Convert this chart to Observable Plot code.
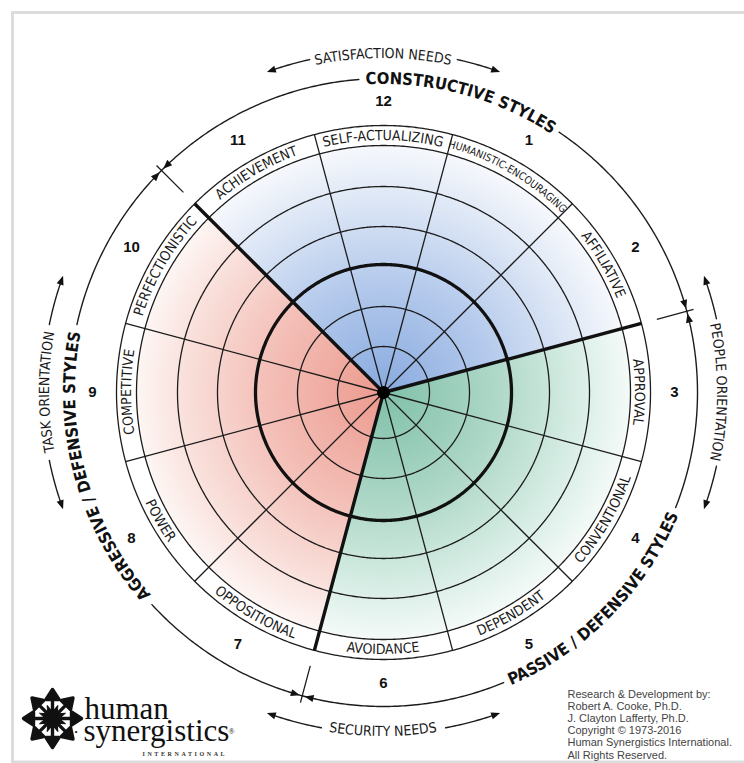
<!DOCTYPE html>
<html>
<head>
<meta charset="utf-8">
<script src="https://cdn.jsdelivr.net/npm/d3@7"></script>
<script src="https://cdn.jsdelivr.net/npm/@observablehq/plot@0.6"></script>
<style>
  body { margin: 0; background: #fff; }
  #chart svg { display: block; }
  .intl text { letter-spacing: 2.6px; }
</style>
</head>
<body>
<div id="chart"></div>
<script>
// ---------------- DATA ----------------
const scaleNumbers = ["12", "1", "2", "3", "4", "5", "6", "7", "8", "9", "10", "11"];
const scaleNames = ["SELF-ACTUALIZING", "HUMANISTIC-ENCOURAGING", "AFFILIATIVE", "APPROVAL",
  "CONVENTIONAL", "DEPENDENT", "AVOIDANCE", "OPPOSITIONAL", "POWER", "COMPETITIVE",
  "PERFECTIONISTIC", "ACHIEVEMENT"];
const scaleBearings = [0, 30, 60, 90, 120, 150, 180, 210, 240, 270, 300, 330]; // degrees clockwise from top

const styleNames = ["CONSTRUCTIVE STYLES", "PASSIVE / DEFENSIVE STYLES", "AGGRESSIVE / DEFENSIVE STYLES"];
const styleFrom = [-45, 75, 195];
const styleTo = [75, 195, 315];
const styleTitleBearing = [15, 134.5, 255];
const styleTitleGap = [[-4.5, 34], [111.5, 157.5], [227.5, 282.5]];

const needNames = ["SATISFACTION NEEDS", "PEOPLE ORIENTATION", "SECURITY NEEDS", "TASK ORIENTATION"];
const needBearings = [0, 90, 180, 270];
const needArrowSpan = [20, 20, 20, 20];
const needTextGap = [12.5, 12.5, 10.5, 11.5];

const gridRings = [46, 86, 128, 166, 206];   // radial grid (plot units)
const boldRing = 128;
const ringInner = 247, ringOuter = 267;

const credits = ["Research & Development by:", "Robert A. Cooke, Ph.D.", "J. Clayton Lafferty, Ph.D.",
  "Copyright \u00A9 1973-2016", "Human Synergistics International.", "All Rights Reserved."];
const logoWords = ["human", "synergistics"];
const logoSub = "INTERNATIONAL";
const logoArrows = [0, 45, 90, 135, 180, 225, 270, 315];

// ---------------- LAYOUT ----------------
const W = 744, H = 763, CX = 383, CY = 392;
const NARROW = "'Liberation Sans Narrow', 'Arial Narrow', 'DejaVu Sans Condensed', sans-serif";
const SANS = "'Liberation Sans', Arial, sans-serif";
const SERIF = "'Liberation Serif', 'DejaVu Serif', serif";
const R_STYLE = 314, R_NUM = 291, R_NEED = 341;
const ns = "http://www.w3.org/2000/svg";
const rad = d => d * Math.PI / 180;
const px = (b, r) => r * Math.sin(rad(b));
const py = (b, r) => r * Math.cos(rad(b));
const arcPts = (a0, a1, r, z) => {
  const n = Math.max(2, Math.ceil(Math.abs(a1 - a0) / 0.5));
  return d3.range(n + 1).map(i => { const a = a0 + (a1 - a0) * i / n; return {z, x: px(a, r), y: py(a, r)}; });
};
const arrowPts = (tip, dir, r, z, L = 9, w = 3.6) => {
  const base = tip - dir * (L / r) * 180 / Math.PI;
  return [{z, x: px(tip, r), y: py(tip, r)}, {z, x: px(base, r + w), y: py(base, r + w)},
          {z, x: px(base, r - w), y: py(base, r - w)}, {z, x: px(tip, r), y: py(tip, r)}];
};

// sectors (gradient fills)
const styleStops = [
  [[0, "#88aadf"], [0.45, "#b5caec"], [0.8, "#dfe8f6"], [1, "#f6f8fc"]],
  [[0, "#7fc0a9"], [0.45, "#add7c7"], [0.8, "#d9eee6"], [1, "#f4faf7"]],
  [[0, "#ec9a8e"], [0.45, "#f3bdb5"], [0.8, "#f9dfda"], [1, "#fdf6f4"]]
];
const sectorRows = styleNames.map((s, i) => [{z: s, x: 0, y: 0}, ...arcPts(styleFrom[i], styleTo[i], ringInner, s), {z: s, x: 0, y: 0}]);

const gridRows = gridRings.filter(r => r !== boldRing).concat([ringInner, ringOuter]).flatMap(r => arcPts(0, 360, r, r));
const boldRows = arcPts(0, 360, boldRing, "b");
const boundaries = scaleBearings.map(b => b + 15);

const styleArcRows = styleNames.flatMap((s, i) => [
  ...arcPts(styleFrom[i], styleTitleGap[i][0], R_STYLE, s + "a"),
  ...arcPts(styleTitleGap[i][1], styleTo[i], R_STYLE, s + "b")]);
const styleArrowRows = styleNames.flatMap((s, i) => [
  ...arrowPts(styleTo[i] - 0.45, 1, R_STYLE, s + "e"),
  ...arrowPts(styleFrom[i] + 0.45, -1, R_STYLE, s + "s")]);

const needArcRows = needNames.flatMap((s, i) => [
  ...arcPts(needBearings[i] - needArrowSpan[i] + 1, needBearings[i] - needTextGap[i], R_NEED, s + "a"),
  ...arcPts(needBearings[i] + needTextGap[i], needBearings[i] + needArrowSpan[i] - 1, R_NEED, s + "b")]);
const needArrowRows = needNames.flatMap((s, i) => [
  ...arrowPts(needBearings[i] + needArrowSpan[i], 1, R_NEED, s + "e"),
  ...arrowPts(needBearings[i] - needArrowSpan[i], -1, R_NEED, s + "s")]);

// curved text render-function mark
function curvedText(items, prefix, opts) {
  return (index, scales) => {
    const sx = scales && scales.x, sy = scales && scales.y;
    const ox = sx ? sx(0) : CX, oy = sy ? sy(0) : CY;
    const k = sx ? Math.abs(sx(1) - sx(0)) : 1;
    const g = document.createElementNS(ns, "g");
    g.setAttribute("font-family", opts.family);
    g.setAttribute("font-weight", opts.weight || "normal");
    g.setAttribute("fill", opts.fill || "#111");
    const defs = document.createElementNS(ns, "defs");
    g.appendChild(defs);
    items.forEach((d, i) => {
      const size = typeof opts.size === "function" ? opts.size(d) : opts.size;
      const inward = d.bearing > 100 && d.bearing < 250;
      const cap = 0.72 * size;
      const r = (inward ? d.r + cap / 2 : d.r - cap / 2) * k;
      const half = 85;
      const a0 = inward ? d.bearing + half : d.bearing - half;
      const a1 = inward ? d.bearing - half : d.bearing + half;
      const pt = a => [ox + r * Math.sin(rad(a)), oy - r * Math.cos(rad(a))];
      const [x0, y0] = pt(a0), [x1, y1] = pt(a1);
      const id = `${prefix}-${i}`;
      const path = document.createElementNS(ns, "path");
      path.setAttribute("id", id);
      path.setAttribute("fill", "none");
      path.setAttribute("d", `M${x0},${y0}A${r},${r} 0 0 ${inward ? 0 : 1} ${x1},${y1}`);
      defs.appendChild(path);
      const text = document.createElementNS(ns, "text");
      text.setAttribute("font-size", size);
      text.setAttribute("text-anchor", "middle");
      const tp = document.createElementNS(ns, "textPath");
      tp.setAttribute("href", "#" + id);
      tp.setAttributeNS("http://www.w3.org/1999/xlink", "xlink:href", "#" + id);
      tp.setAttribute("startOffset", "50%");
      tp.setAttribute("text-anchor", "middle");
      tp.textContent = d.text;
      text.appendChild(tp);
      g.appendChild(text);
    });
    return g;
  };
}

const gradientDefs = (index, scales) => {
  const sx = scales && scales.x, sy = scales && scales.y;
  const ox = sx ? sx(0) : CX, oy = sy ? sy(0) : CY;
  const rr = sx ? Math.abs(sx(ringInner) - sx(0)) : ringInner;
  const defs = document.createElementNS(ns, "defs");
  styleStops.forEach((stops, i) => {
    const g = document.createElementNS(ns, "radialGradient");
    g.setAttribute("id", "grad" + i);
    g.setAttribute("gradientUnits", "userSpaceOnUse");
    g.setAttribute("cx", ox); g.setAttribute("cy", oy); g.setAttribute("r", rr);
    stops.forEach(([o, c]) => {
      const s = document.createElementNS(ns, "stop");
      s.setAttribute("offset", o); s.setAttribute("stop-color", c);
      g.appendChild(s);
    });
    defs.appendChild(g);
  });
  return defs;
};

const labelItems = scaleNames.map((t, i) => ({text: t, bearing: scaleBearings[i], r: (ringInner + ringOuter) / 2}));
const styleItems = styleNames.map((t, i) => ({text: t, bearing: styleTitleBearing[i], r: R_STYLE}));
const needItems = needNames.map((t, i) => ({text: t, bearing: needBearings[i], r: R_NEED - 2}));
const numberRows = scaleNumbers.map((t, i) => ({t, b: scaleBearings[i]}));

const headArrow = {
  draw(context, l) {
    context.moveTo(0, 0); context.lineTo(0, -l + 8);
    context.moveTo(-6.5, -l + 10); context.lineTo(0, -l); context.lineTo(6.5, -l + 10); context.closePath();
  }
};

const chart = Plot.plot({
  width: W, height: H,
  margin: 0, marginTop: 0, marginRight: 0, marginBottom: 0, marginLeft: 0,
  x: {domain: [-CX, W - CX], axis: null},
  y: {domain: [-(H - CY), CY], axis: null},
  style: {background: "#fff"},
  marks: [
    Plot.frame({stroke: "#dcdcdc", strokeWidth: 3, insetLeft: 12, insetTop: 12, insetRight: -10, insetBottom: 1.5}),
    gradientDefs,
    ...sectorRows.map((rows, i) => Plot.line(rows, {x: "x", y: "y", fill: `url(#grad${i})`, stroke: "none"})),
    Plot.line(gridRows, {x: "x", y: "y", z: "z", stroke: "#1c1c1c", strokeWidth: 1.3}),
    Plot.link(boundaries, {x1: () => 0, y1: () => 0, x2: b => px(b, ringOuter), y2: b => py(b, ringOuter), stroke: "#1c1c1c", strokeWidth: 1.3}),
    Plot.line(boldRows, {x: "x", y: "y", stroke: "#111", strokeWidth: 3.3}),
    Plot.link(styleTo, {x1: () => 0, y1: () => 0, x2: b => px(b, ringOuter), y2: b => py(b, ringOuter), stroke: "#111", strokeWidth: 3.4}),
    Plot.dot([{x: 0, y: 0}], {x: "x", y: "y", r: 6.5, fill: "#000"}),
    curvedText(labelItems, "lab", {family: NARROW, size: d => d.text.length > 18 ? 10.5 : 14, fill: "#1a1a1a"}),
    Plot.text(numberRows, {x: d => px(d.b, R_NUM), y: d => py(d.b, R_NUM), text: "t", fontSize: 15, fontWeight: "bold", fontFamily: SANS, fill: "#111"}),
    Plot.line(styleArcRows, {x: "x", y: "y", z: "z", stroke: "#1c1c1c", strokeWidth: 1.4}),
    Plot.line(styleArrowRows, {x: "x", y: "y", z: "z", fill: "#111", stroke: "none"}),
    Plot.link(styleTo, {x1: b => px(b, 283), y1: b => py(b, 283), x2: b => px(b, 321), y2: b => py(b, 321), stroke: "#1c1c1c", strokeWidth: 1.3}),
    curvedText(styleItems, "sty", {family: NARROW, size: 16.5, weight: "bold", fill: "#111"}),
    Plot.line(needArcRows, {x: "x", y: "y", z: "z", stroke: "#1c1c1c", strokeWidth: 1.4}),
    Plot.line(needArrowRows, {x: "x", y: "y", z: "z", fill: "#111", stroke: "none"}),
    curvedText(needItems, "need", {family: NARROW, size: 14, fill: "#1a1a1a"}),
    // logo
    Plot.vector(logoArrows, {frameAnchor: "bottom-left", dx: 52, dy: -45, rotate: d => d, length: 29, anchor: "start", shape: headArrow, stroke: "#111", fill: "#111", strokeWidth: 3.4}),
    Plot.vector(logoArrows, {frameAnchor: "bottom-left", dx: 52, dy: -45, rotate: d => d + 22.5, length: 14, anchor: "start", shape: "spike", r: 4.5, stroke: "#111", fill: "#111", strokeWidth: 1}),
    Plot.text([logoWords[0]], {frameAnchor: "bottom-left", dx: 84, dy: -45, text: d => d, textAnchor: "start", lineAnchor: "bottom", fontFamily: SERIF, fontSize: 31, fill: "#111"}),
    Plot.text([logoWords[1]], {frameAnchor: "bottom-left", dx: 83, dy: -23, text: d => d, textAnchor: "start", lineAnchor: "bottom", fontFamily: SERIF, fontSize: 31, fill: "#111"}),
    Plot.text(["\u2022"], {frameAnchor: "bottom-left", dx: 74, dy: -29, text: d => d, textAnchor: "start", lineAnchor: "bottom", fontFamily: SERIF, fontSize: 9, fill: "#111"}),
    Plot.text(["\u00AE"], {frameAnchor: "bottom-left", dx: 228, dy: -30, text: d => d, textAnchor: "start", lineAnchor: "bottom", fontFamily: SERIF, fontSize: 8, fill: "#111"}),
    Plot.text([logoSub], {frameAnchor: "bottom-left", dx: 142, dy: -8, text: d => d, textAnchor: "start", lineAnchor: "bottom", fontFamily: SERIF, fontSize: 6, fontWeight: "bold", fill: "#333", className: "intl"}),
    Plot.text([credits.join("\n")], {frameAnchor: "bottom-left", dx: 567, dy: -5, text: d => d, textAnchor: "start", lineAnchor: "bottom", lineHeight: 1.1, fontFamily: SANS, fontSize: 11, fill: "#444"})
  ]
});
document.getElementById("chart").appendChild(chart);
</script>
</body>
</html>
